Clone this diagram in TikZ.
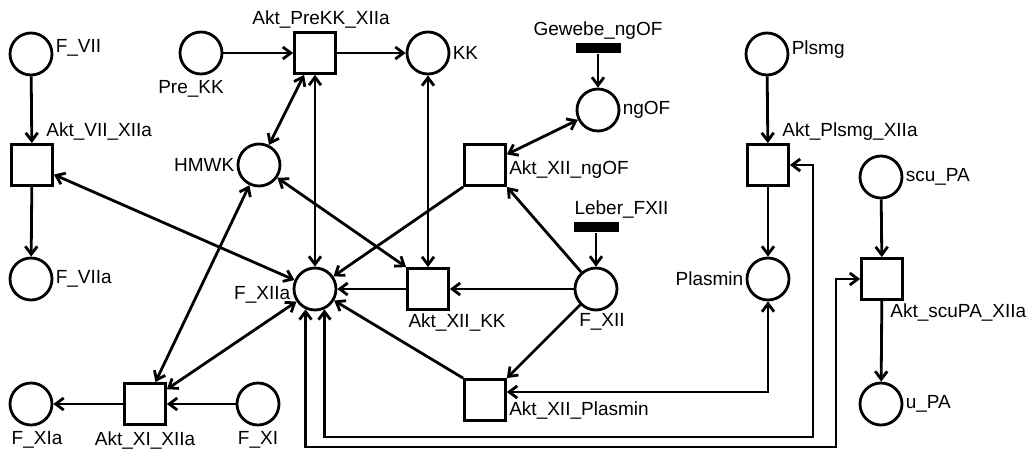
\documentclass[tikz,border=0pt]{standalone}
\usepackage{fontspec}
\setmainfont{Liberation Sans}
\usetikzlibrary{arrows.meta,positioning}

\begin{document}
\begin{tikzpicture}[x=1pt,y=-1pt,line width=2.8pt,font=\fontsize{19}{21}\selectfont,
  >={Straight Barb[length=8pt,width=12pt]},
  place/.style={circle,draw,minimum size=42pt,inner sep=0pt},
  trans/.style={rectangle,draw,minimum size=41pt,inner sep=0pt},
  bar/.style={rectangle,fill=black,minimum width=45pt,minimum height=10pt,inner sep=0pt},
  every label/.style={inner sep=1pt}]
  \path[use as bounding box,fill=white] (0,0) rectangle (1034,448);
  % places
  \node[place,label={[yshift=6pt]right:F\_VII}] (FVII) at (31,54) {};
  \node[place,label={right:F\_VIIa}] (FVIIa) at (31,279) {};
  \node[place,label={[xshift=-10pt,yshift=-3pt]below:Pre\_KK}] (PreKK) at (201,53) {};
  \node[place,label={right:KK}] (KK) at (428,53) {};
  \node[place,label={left:HMWK}] (HMWK) at (259,165) {};
  \node[place,label={right:ngOF}] (ngOF) at (598,110) {};
  \node[place,label={[yshift=-6pt]left:F\_XIIa}] (FXIIa) at (315,289) {};
  \node[place,label={[xshift=6pt]below:F\_XII}] (FXII) at (596,289) {};
  \node[place,label={[xshift=6pt,yshift=-3pt]below:F\_XIa}] (FXIa) at (31,404) {};
  \node[place,label={[yshift=-3pt]below:F\_XI}] (FXI) at (258,404) {};
  \node[place,label={[yshift=4pt]right:Plsmg}] (Plsmg) at (767,54) {};
  \node[place,label={left:Plasmin}] (Plasmin) at (768,279) {};
  \node[place,label={right:scu\_PA}] (scuPA) at (881,177) {};
  \node[place,label={right:u\_PA}] (uPA) at (881,404) {};
  % sources
  \node[bar,label={above:Gewebe\_ngOF}] (GewebengOF) at (598,48) {};
  \node[bar,label={[anchor=south west]north west:Leber\_FXII}] (LeberFXII) at (596,227) {};
  % transitions
  \node[trans,label={[anchor=south west,xshift=12pt]north:Akt\_VII\_XIIa}] (AktVIIXIIa) at (32,165) {};
  \node[trans,label={[xshift=6pt]above:Akt\_PreKK\_XIIa}] (AktPreKKXIIa) at (315,53) {};
  \node[trans,label={[yshift=-5pt]right:Akt\_XII\_ngOF}] (AktXIIngOF) at (485,165) {};
  \node[trans,label={[anchor=north west]south west:Akt\_XII\_KK}] (AktXIIKK) at (428,289) {};
  \node[trans,label={[anchor=south west]south east:Akt\_XII\_Plasmin}] (AktXIIPlasmin) at (485,400) {};
  \node[trans,label={[yshift=-3pt]below:Akt\_XI\_XIIa}] (AktXIXIIa) at (145,404) {};
  \node[trans,label={[anchor=south west,xshift=12pt]north:Akt\_Plsmg\_XIIa}] (AktPlsmgXIIa) at (768,165) {};
  \node[trans,label={[anchor=north west,xshift=6pt]south:Akt\_scuPA\_XIIa}] (AktscuPAXIIa) at (882,279) {};
  % arcs
  \draw[->] (FVII) -- (AktVIIXIIa);
  \draw[->] (AktVIIXIIa) -- (FVIIa);
  \draw[<->] (AktVIIXIIa) -- (FXIIa);
  \draw[->] (PreKK) -- (AktPreKKXIIa);
  \draw[->] (AktPreKKXIIa) -- (KK);
  \draw[<->] (AktPreKKXIIa) -- (HMWK);
  \draw[<->] (AktPreKKXIIa) -- (FXIIa);
  \draw[<->] (KK) -- (AktXIIKK);
  \draw[->] (GewebengOF) -- (ngOF);
  \draw[<->] (ngOF) -- (AktXIIngOF);
  \draw[->] (AktXIIngOF.south west) -- (FXIIa);
  \draw[->] (FXII) -- (AktXIIngOF.south east);
  \draw[->] (LeberFXII) -- (FXII);
  \draw[->] (FXII) -- (AktXIIKK);
  \draw[->] (AktXIIKK) -- (FXIIa);
  \draw[<->] (HMWK) -- (AktXIIKK.north west);
  \draw[->] (FXII) -- (AktXIIPlasmin.north east);
  \draw[->] (AktXIIPlasmin.north west) -- (FXIIa);
  \draw[<->] (HMWK) -- (AktXIXIIa);
  \draw[<->] (FXIIa) -- (AktXIXIIa);
  \draw[->] (FXI) -- (AktXIXIIa);
  \draw[->] (AktXIXIIa) -- (FXIa);
  \draw[->] (Plsmg) -- (AktPlsmgXIIa);
  \draw[->] (AktPlsmgXIIa) -- (Plasmin);
  \draw[->] (scuPA) -- (AktscuPAXIIa);
  \draw[->] (AktscuPAXIIa) -- (uPA);
  % routed arcs
  \coordinate (innerturn) at (813,437);
  \coordinate (outerturn) at (836,447);
  \draw[<->] (Plasmin.south) |- ([yshift=8pt]AktXIIPlasmin.east);
  \draw[<->] (FXIIa.-65) |- (innerturn) |- (AktPlsmgXIIa.east);
  \draw[<->] (FXIIa.-115) |- (outerturn) |- (AktscuPAXIIa.west);
\end{tikzpicture}
\end{document}
